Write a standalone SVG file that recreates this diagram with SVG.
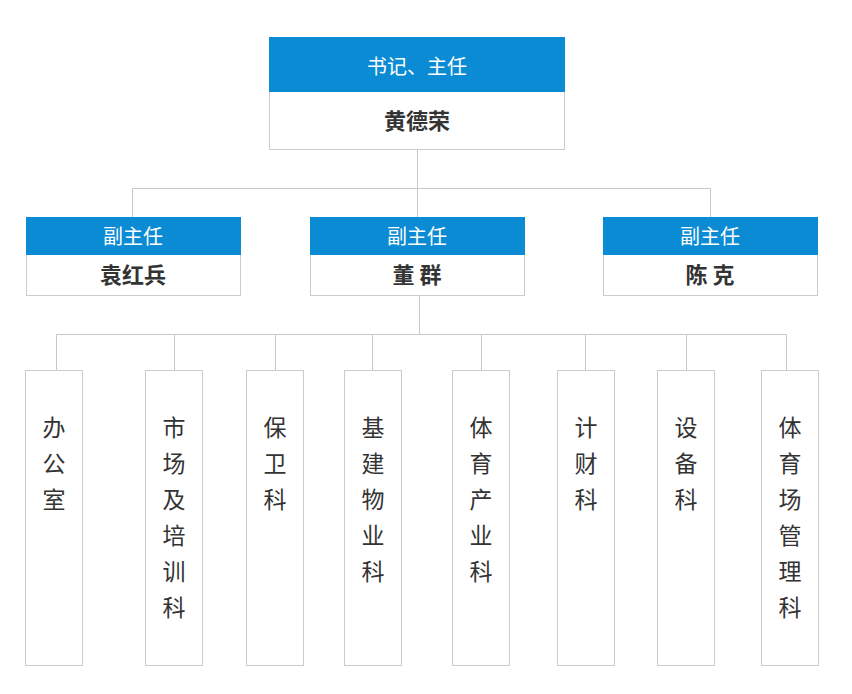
<svg xmlns="http://www.w3.org/2000/svg" width="852" height="694" viewBox="0 0 852 694">
<style>
text{font-family:"Noto Sans CJK SC","Noto Sans",sans-serif;text-anchor:middle}
.b{fill:#fff;stroke:#ccc;stroke-width:1}
.h{fill:#0a8bd3}
.w{fill:#fff;font-size:20px}
.n{fill:#333;font-size:22px;font-weight:bold}
.v{fill:#333;font-size:23px}
.c{stroke:#c8c8c8;stroke-width:1;fill:none}
</style>
<rect width="852" height="694" fill="#fff"/>
<g id="connectors">
<path class="c" d="M417.5 149V188.5M132.5 188.5H710.5M132.5 188.5V217M417.5 188.5V217M710.5 188.5V217"/>
<path class="c" d="M419.5 295V334.5M56.5 334.5H786.5M56.5 334.5V370M174.5 334.5V370M275.5 334.5V370M372.5 334.5V370M481.5 334.5V370M585.5 334.5V370M686.5 334.5V370M786.5 334.5V370"/>
</g>
<g id="top"><rect class="b" x="269.5" y="37.5" width="295" height="112"/><rect class="h" x="269" y="37" width="296" height="55"/>
<text class="w" x="417" y="74">书记、主任</text><text class="n" x="417" y="129">黄德荣</text></g>
<g id="m1"><rect class="b" x="26.5" y="217.5" width="214" height="78"/><rect class="h" x="26" y="217" width="215" height="38"/>
<text class="w" x="133" y="244">副主任</text><text class="n" x="133" y="283">袁红兵</text></g>
<g id="m2"><rect class="b" x="310.5" y="217.5" width="214" height="78"/><rect class="h" x="310" y="217" width="215" height="38"/>
<text class="w" x="417" y="244">副主任</text><text class="n" x="417" y="283" xml:space="preserve">董 群</text></g>
<g id="m3"><rect class="b" x="603.5" y="217.5" width="214" height="78"/><rect class="h" x="603" y="217" width="215" height="38"/>
<text class="w" x="710" y="244">副主任</text><text class="n" x="710" y="283" xml:space="preserve">陈 克</text></g>
<g id="d1"><rect class="b" x="25.5" y="370.5" width="57" height="295"/><text class="v" x="54" y="436">办</text><text class="v" x="54" y="472">公</text><text class="v" x="54" y="508">室</text></g>
<g id="d2"><rect class="b" x="145.5" y="370.5" width="57" height="295"/><text class="v" x="174" y="436">市</text><text class="v" x="174" y="472">场</text><text class="v" x="174" y="508">及</text><text class="v" x="174" y="544">培</text><text class="v" x="174" y="580">训</text><text class="v" x="174" y="616">科</text></g>
<g id="d3"><rect class="b" x="246.5" y="370.5" width="57" height="295"/><text class="v" x="275" y="436">保</text><text class="v" x="275" y="472">卫</text><text class="v" x="275" y="508">科</text></g>
<g id="d4"><rect class="b" x="344.5" y="370.5" width="57" height="295"/><text class="v" x="373" y="436">基</text><text class="v" x="373" y="472">建</text><text class="v" x="373" y="508">物</text><text class="v" x="373" y="544">业</text><text class="v" x="373" y="580">科</text></g>
<g id="d5"><rect class="b" x="452.5" y="370.5" width="57" height="295"/><text class="v" x="481" y="436">体</text><text class="v" x="481" y="472">育</text><text class="v" x="481" y="508">产</text><text class="v" x="481" y="544">业</text><text class="v" x="481" y="580">科</text></g>
<g id="d6"><rect class="b" x="557.5" y="370.5" width="57" height="295"/><text class="v" x="586" y="436">计</text><text class="v" x="586" y="472">财</text><text class="v" x="586" y="508">科</text></g>
<g id="d7"><rect class="b" x="657.5" y="370.5" width="57" height="295"/><text class="v" x="686" y="436">设</text><text class="v" x="686" y="472">备</text><text class="v" x="686" y="508">科</text></g>
<g id="d8"><rect class="b" x="761.5" y="370.5" width="57" height="295"/><text class="v" x="790" y="436">体</text><text class="v" x="790" y="472">育</text><text class="v" x="790" y="508">场</text><text class="v" x="790" y="544">管</text><text class="v" x="790" y="580">理</text><text class="v" x="790" y="616">科</text></g>
</svg>
